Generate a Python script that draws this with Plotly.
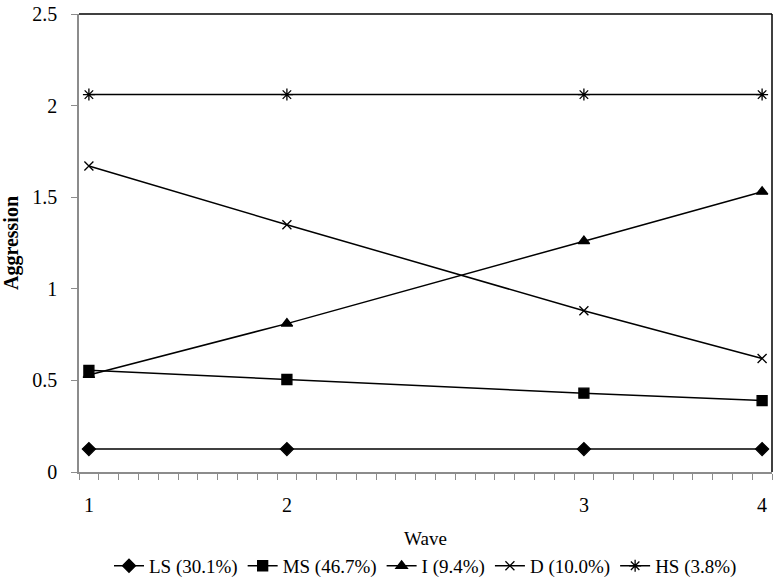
import plotly.graph_objects as go

wave_month = [0, 10, 25, 34]
wave_labels = ["1", "2", "3", "4"]

ls = [0.125, 0.125, 0.125, 0.125]
ms = [0.555, 0.505, 0.43, 0.39]
inc = [0.53, 0.81, 1.26, 1.53]
dec = [1.67, 1.35, 0.88, 0.62]
hs = [2.06, 2.06, 2.06, 2.06]

series = [
    ("LS (30.1%)", ls, "diamond", 10),
    ("MS (46.7%)", ms, "square", 10),
    ("I (9.4%)", inc, "triangle-up", 10),
    ("D (10.0%)", dec, "x-thin-open", 9),
    ("HS (3.8%)", hs, "asterisk-open", 10),
]

fig = go.Figure()
for name, vals, sym, sz in series:
    fig.add_trace(go.Scatter(
        x=wave_month, y=vals, name=name, mode="lines+markers",
        line=dict(color="black", width=1.5),
        marker=dict(symbol=sym, size=sz, color="black",
                    line=dict(color="black", width=1.3)),
    ))

axis_grey = "#8c8c8c"
font = "Liberation Serif"

fig.update_layout(
    width=776, height=584,
    margin=dict(l=79, r=4, t=14, b=112, autoexpand=False),
    paper_bgcolor="white", plot_bgcolor="white",
    font=dict(family=font, size=20, color="black"),
    showlegend=True,
    legend=dict(orientation="h", x=0.5, xanchor="center", xref="paper",
                y=-0.205, yanchor="middle", font=dict(size=19),
                itemwidth=30, tracegroupgap=0),
    xaxis=dict(
        range=[-0.5, 34.5], tickmode="array", tickvals=wave_month,
        ticktext=wave_labels, ticks="", showgrid=False, zeroline=False,
        showline=True, linecolor=axis_grey, linewidth=1.5, automargin=False,
        minor=dict(tickmode="linear", tick0=-0.5, dtick=1, ticks="outside",
                   ticklen=6, tickcolor=axis_grey, showgrid=False),
        title=dict(text="Wave", font=dict(size=19), standoff=17),
        ticklabelstandoff=14,
    ),
    yaxis=dict(
        range=[0, 2.5], dtick=0.5, ticks="outside", ticklen=6,
        tickcolor=axis_grey, showgrid=False, zeroline=False,
        showline=True, linecolor=axis_grey, linewidth=1.5, automargin=False,
        title=dict(text="<b>Aggression</b>", font=dict(size=20), standoff=14),
        ticklabelstandoff=10,
    ),
)

# black frame on the top and right sides
fig.add_shape(type="line", xref="paper", yref="paper", x0=0, x1=1, y0=1, y1=1,
              line=dict(color="black", width=1.5))
fig.add_shape(type="line", xref="paper", yref="paper", x0=1, x1=1, y0=0, y1=1,
              line=dict(color="black", width=1.5))

# drop the default page margin so the figure fills the window exactly
fig.write_html("out.html", config={"displayModeBar": False},
               post_script="document.body.style.margin='0';")
